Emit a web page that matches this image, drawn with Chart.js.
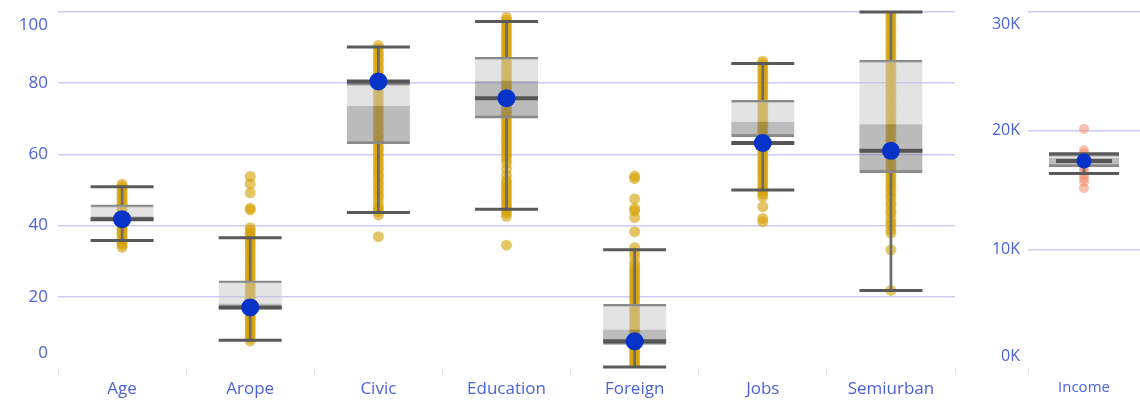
<!DOCTYPE html>
<html>
<head>
<meta charset="utf-8">
<script src="https://cdn.jsdelivr.net/npm/chart.js@4.4.1/dist/chart.umd.min.js"></script>
<style>
  body { margin: 0; background: #fff; }
  #wrap { position: relative; width: 1140px; height: 404px; }
  canvas { position: absolute; top: 0; }
  #main { left: 0; }
  #income { left: 965px; }
</style>
</head>
<body>
<div id="wrap">
  <canvas id="main" width="965" height="404"></canvas>
  <canvas id="income" width="175" height="404"></canvas>
</div>
<script>
// box statistics per indicator
const categories = ['Age', 'Arope', 'Civic', 'Education', 'Foreign', 'Jobs', 'Semiurban'];
const whiskerLow  = [35.8,  7.8, 43.7, 44.6,  0.3, 50.0, 21.8];
const q1          = [41.5, 16.5, 63.0, 70.2,  6.6, 65.0, 54.9];
const median      = [42.6, 18.1, 73.6, 80.7, 10.8, 69.2, 68.5];
const q3          = [45.8, 24.5, 80.0, 87.3, 17.9, 75.2, 86.5];
const whiskerHigh = [50.9, 36.6, 90.2, 97.3, 33.2, 85.5, 100.0];
const marker      = [41.8, 17.0, 80.5, 75.8,  7.5, 63.2, 61.0];

// individual observations
const agePoints = [33.9, 34.7, 35.3, 36.2, 36.8, 37.7, 38.2, 39.1, 39.5, 40.3, 40.7, 41.2, 41.6, 42.1,
  42.5, 43.2, 43.7, 44.5, 45.1, 45.9, 46.4, 47.3, 47.9, 48.8, 49.4, 50.3, 51.0, 51.6];
const aropePoints = [7.6, 8.4, 9.2, 9.8, 10.7, 11.3, 12.2, 12.8, 13.7, 14.2, 14.9, 15.5, 16.1, 16.6,
  17.2, 17.9, 18.5, 19.3, 20.0, 20.9, 21.5, 22.4, 23.1, 24.0, 24.9, 25.6, 26.5, 27.4, 28.2, 29.1, 30.0,
  30.9, 31.7, 32.6, 33.5, 34.3, 35.2, 36.0, 36.9, 37.8, 38.6, 39.4, 44.4, 44.9, 49.2, 51.7, 53.8];
const civicPoints = [36.9, 43.0, 43.9, 44.7, 45.4, 46.6, 47.9, 48.7, 49.8, 50.6, 51.7, 52.5, 53.6, 54.4,
  55.5, 56.3, 57.4, 58.2, 59.3, 60.1, 61.2, 62.0, 63.1, 63.9, 65.0, 65.8, 66.9, 67.7, 68.8, 69.6, 70.7,
  71.5, 72.6, 73.4, 74.5, 75.3, 76.4, 77.2, 78.3, 79.1, 80.2, 81.0, 82.1, 82.9, 84.0, 84.8, 85.9, 86.7,
  87.8, 88.6, 89.7, 90.6];
const educationPoints = [34.5, 42.6, 43.5, 44.3, 45.2, 46.0, 46.9, 47.7, 48.6, 49.4, 50.3, 51.1, 52.0,
  52.8, 54.2, 55.9, 57.5, 58.6, 59.5, 60.3, 61.2, 62.0, 62.9, 63.7, 64.6, 65.4, 66.3, 67.1, 68.0, 68.8,
  69.7, 70.5, 71.4, 72.2, 73.1, 73.9, 74.8, 75.6, 76.5, 77.3, 78.2, 79.0, 79.9, 80.7, 81.6, 82.4, 83.3,
  84.1, 85.0, 85.8, 86.7, 87.5, 88.4, 89.2, 90.1, 90.9, 91.8, 92.6, 93.5, 94.3, 95.2, 96.0, 96.9, 97.7, 98.5];
const foreignPoints = [0.1, 0.8, 1.6, 2.3, 3.1, 3.8, 4.6, 5.3, 6.0, 6.7, 7.3, 8.0, 8.8, 9.5, 10.3, 11.0,
  11.8, 12.6, 13.4, 14.2, 15.0, 15.9, 16.7, 17.6, 18.4, 19.3, 20.1, 21.0, 21.8, 22.7, 23.5, 24.4, 25.2,
  26.1, 26.9, 27.8, 28.6, 29.7, 31.2, 32.4, 33.8, 38.3, 42.3, 44.2, 44.8, 47.5, 53.2, 53.9];
const jobsPoints = [41.1, 42.0, 45.3, 48.1, 48.9, 49.8, 50.6, 51.5, 52.3, 53.2, 54.0, 54.9, 55.7, 56.6,
  57.4, 58.3, 59.1, 60.0, 60.8, 61.7, 62.5, 63.4, 64.2, 65.1, 65.9, 66.8, 67.6, 68.5, 69.3, 70.2, 71.0,
  71.9, 72.7, 73.6, 74.4, 75.3, 76.1, 77.0, 77.8, 78.7, 79.5, 80.4, 81.2, 82.1, 82.9, 83.8, 84.6, 85.5, 86.2];
const semiurbanPoints = [21.8, 33.2, 37.9, 38.8, 40.1, 41.0, 42.2, 43.5, 44.3, 45.6, 46.4, 47.7, 48.5,
  49.6, 50.5, 51.4, 52.3, 53.2, 54.1, 55.0, 55.9, 56.8, 57.7, 58.6, 59.5, 60.4, 61.3, 62.2, 63.1, 64.0,
  64.9, 65.8, 66.7, 67.6, 68.5, 69.4, 70.3, 71.2, 72.1, 73.0, 73.9, 74.8, 75.7, 76.6, 77.5, 78.4, 79.3,
  80.2, 81.1, 82.0, 82.9, 83.8, 84.7, 85.6, 86.5, 87.4, 88.3, 89.2, 90.1, 91.0, 91.9, 92.8, 93.7, 94.6,
  95.5, 96.4, 97.3, 98.2, 99.1, 99.9];
const pointSets = [agePoints, aropePoints, civicPoints, educationPoints, foreignPoints, jobsPoints, semiurbanPoints];

// income panel
const incomeCategories = ['Income'];
const incomeWhiskerLow = [16400];
const incomeQ1 = [16950];
const incomeMedian = [17700];
const incomeQ3 = [18000];
const incomeWhiskerHigh = [18050];
const incomeMarker = [17450];
const incomePoints = [20150, 18350, 18100, 17800, 17500, 17200, 16900, 16600, 16300, 16000, 15700, 15150];

const TEXT = '#4b62dc';
const GRID = '#cbcbf3';
const FONT = '"Open Sans", sans-serif';

// tick labels kept inside the plot height, like the top/bottom labels of the original axis
function makeYLabels(format, size, gap, padTop, padBottom) {
  return {
    id: 'yLabels',
    afterDraw(chart) {
      const { ctx, chartArea, scales: { y } } = chart;
      ctx.save();
      ctx.font = size + 'px ' + FONT;
      ctx.fillStyle = TEXT;
      ctx.textAlign = 'right';
      ctx.textBaseline = 'middle';
      y.ticks.forEach(t => {
        let py = y.getPixelForValue(t.value);
        py = Math.max(chartArea.top + padTop, Math.min(chartArea.bottom - padBottom, py));
        ctx.fillText(format(t.value), chartArea.left - gap, py);
      });
      ctx.restore();
    }
  };
}

function boxDatasets(cats, lo, b1, mid, b3, hi, mark, pts, opt) {
  const at = (arr) => cats.map((c, i) => ({ x: c, y: arr[i] }));
  return [
    {
      type: 'line', order: 9, showLine: false,
      data: cats.flatMap((c, i) => pts[i].map(v => ({ x: c, y: v }))),
      pointRadius: opt.pointRadius, pointBackgroundColor: opt.pointColor, pointBorderWidth: 0
    },
    {
      type: 'bar', order: 8, grouped: false, barThickness: 2, backgroundColor: '#6c6c6c',
      data: cats.map((c, i) => [b3[i], hi[i]])
    },
    {
      type: 'bar', order: 8, grouped: false, barThickness: 2, backgroundColor: '#6c6c6c',
      data: cats.map((c, i) => [lo[i], b1[i]])
    },
    {
      type: 'bar', order: 7, grouped: false, barThickness: opt.boxWidth,
      backgroundColor: 'rgba(200,200,200,0.5)', borderColor: '#8a8a8a',
      borderWidth: { top: 2, bottom: 0, left: 0, right: 0 }, borderSkipped: false,
      data: cats.map((c, i) => [mid[i], b3[i]])
    },
    {
      type: 'bar', order: 6, grouped: false, barThickness: opt.boxWidth,
      backgroundColor: 'rgba(120,120,120,0.5)', borderColor: '#8a8a8a',
      borderWidth: { top: 0, bottom: 2, left: 0, right: 0 }, borderSkipped: false,
      data: cats.map((c, i) => [b1[i], mid[i]])
    },
    {
      type: 'line', order: 5, showLine: false, clip: false,
      data: at(lo).concat(at(hi)),
      pointStyle: 'line', pointRadius: opt.boxWidth / 2, pointBorderWidth: 3, pointBorderColor: '#5a5a5a'
    },
    {
      type: 'line', order: 4, showLine: false, clip: false,
      data: at(mark),
      pointStyle: 'line', pointRadius: opt.markWidth / 2, pointBorderWidth: 4, pointBorderColor: '#555555'
    },
    {
      type: 'line', order: 3, showLine: false, clip: false,
      data: at(mark),
      pointRadius: opt.dotRadius, pointBackgroundColor: '#0632c8', pointBorderWidth: 0
    }
  ];
}

function axes(max, step, yWidth, labelSize) {
  return {
    x: {
      offset: true,
      border: { display: false },
      grid: { offset: true, drawOnChartArea: false, drawTicks: true, tickLength: 6, color: '#e2e2e2' },
      ticks: { color: TEXT, font: { family: FONT, size: labelSize }, padding: 5, maxRotation: 0, autoSkip: false },
      afterFit: s => { s.height = 36; }
    },
    y: {
      min: 0, max: max,
      border: { display: false },
      ticks: { stepSize: step, display: false },
      grid: { color: c => c.tick.value === 0 ? 'transparent' : GRID, lineWidth: 1.5, drawTicks: false },
      afterFit: s => { s.width = yWidth; }
    }
  };
}

const common = {
  responsive: false,
  animation: false,
  events: [],
  plugins: { legend: { display: false }, tooltip: { enabled: false } }
};

new Chart(document.getElementById('main'), {
  type: 'bar',
  data: {
    labels: categories,
    datasets: boxDatasets(categories, whiskerLow, q1, median, q3, whiskerHigh, marker, pointSets, {
      pointRadius: 5.5, pointColor: 'rgba(212,160,0,0.6)', boxWidth: 63, markWidth: 63, dotRadius: 9
    })
  },
  options: Object.assign({}, common, {
    layout: { autoPadding: false, padding: { top: 12, right: 10, left: 0, bottom: 0 } },
    scales: axes(100, 20, 58, 17)
  }),
  plugins: [makeYLabels(v => String(v), 17, 10, 13, 15)]
});

new Chart(document.getElementById('income'), {
  type: 'bar',
  data: {
    labels: incomeCategories,
    datasets: boxDatasets(incomeCategories, incomeWhiskerLow, incomeQ1, incomeMedian, incomeQ3,
      incomeWhiskerHigh, incomeMarker, [incomePoints], {
        pointRadius: 5, pointColor: 'rgba(242,140,110,0.55)', boxWidth: 70, markWidth: 56, dotRadius: 7.5
      })
  },
  options: Object.assign({}, common, {
    layout: { autoPadding: false, padding: { top: 12, right: 0, left: 0, bottom: 0 } },
    scales: axes(30000, 10000, 63, 15)
  }),
  plugins: [makeYLabels(v => (v / 1000) + 'K', 16, 8, 12, 12)]
});
</script>
</body>
</html>
